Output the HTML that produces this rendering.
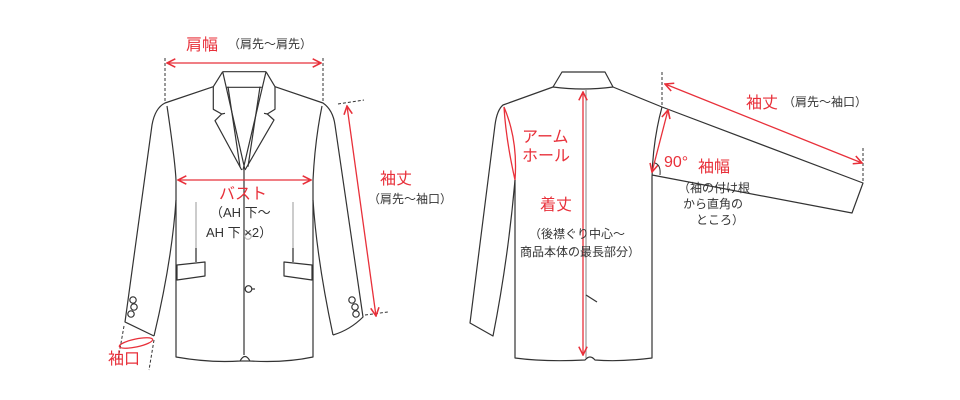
<!DOCTYPE html>
<html><head><meta charset="utf-8"><style>
html,body{margin:0;padding:0;background:#fff;width:960px;height:400px;overflow:hidden}
svg{display:block}
.r{fill:#e8303a;font-family:"Liberation Sans","Noto Sans CJK JP",sans-serif}
.k{fill:#333;font-family:"Liberation Sans","Noto Sans CJK JP",sans-serif}
</style></head><body>
<svg width="960" height="400" viewBox="0 0 960 400" xmlns="http://www.w3.org/2000/svg">
<defs>
<marker id="a" viewBox="0 0 10 10" refX="9" refY="5" markerWidth="8" markerHeight="8" orient="auto-start-reverse"><path d="M1,1 L9,5 L1,9" fill="none" stroke="#e8303a" stroke-width="1.5"/></marker>
</defs>
<g fill="none" stroke="#333" stroke-width="1.2" stroke-linejoin="round">
<!-- FRONT -->
<path d="M222.7,71.7 L266,71.7"/>
<path d="M226.7,87.3 L261.7,87.3"/>
<path d="M222.7,71.7 L213.3,86.7 L213.3,109.3 L221.7,114 L215,120.7 L241.7,170"/>
<path d="M266,71.7 L275,86.7 L275,109.3 L267.3,114 L274,120 L245,170"/>
<path d="M221.7,114 L225,113.3"/><path d="M267.3,114 L264,113.3"/>
<path d="M222.7,71.7 L245,170"/><path d="M266,71.7 L243,170"/>
<path d="M228,86.7 L240,166.7"/><path d="M260,86.7 L248,166.7"/>
<path d="M213.3,86.7 L165,103 Q155,108 152,125 L125,322 L154,336"/>
<path d="M275,86.7 L323,103 Q333,110 335,125 L363,317 Q350,330 333,335"/>
<path d="M167,106 Q175,160 176,180 L176,357 Q210,363 240,361 Q245,352 250,361 Q285,363 313,357 L313,180 Q315,140 322,106"/>
<path d="M176,200 Q172,260 154,336"/>
<path d="M313,200 Q317,260 333,335"/>
<path d="M244,170 L244,355"/>
<path d="M240,361 L250,361"/>
<path d="M177,265 L205,262 L205,276 L177,280 Z"/>
<path d="M284,262 L312,265 L312,280 L284,276 Z"/>
<path d="M196,202 L196,262" stroke="#aaa"/><path d="M196,248 L196,262"/>
<path d="M293,202 L293,262" stroke="#aaa"/><path d="M293,248 L293,262"/>
<circle cx="248.5" cy="289" r="3.3"/><path d="M252,289 L255,289"/>
<circle cx="248" cy="236" r="3.3" stroke="#bbb"/>
<circle cx="133" cy="300" r="3.2"/><circle cx="134" cy="307" r="3.2"/><circle cx="131" cy="314" r="3.2"/>
<circle cx="352" cy="300" r="3.2"/><circle cx="355" cy="307" r="3.2"/><circle cx="356" cy="314" r="3.2"/>
<!-- BACK -->
<path d="M562,72 L605,72 L613,87 Q583,91 553,87 Z"/>
<path d="M553,87 L503,105 Q497,110 495,125 L470,323 L493,336 Q508,260 515,180"/>
<path d="M613,87 L662,107 L863,183 L852,213 L652,175"/>
<path d="M662,107 Q653,140 652,177 L652,358 Q620,362 595,360 Q590,354 585,360 Q545,362 515,358 L515,180"/>
<path d="M586,90 L586,358" stroke="#999"/>
<path d="M586,295 L597,302"/>
</g>
<!-- dashed guides -->
<g stroke="#333" stroke-width="1" stroke-dasharray="3,2" fill="none">
<path d="M165,58 L165,103"/><path d="M323,58 L323,103"/>
<path d="M338,104 L364,100"/><path d="M365,315 L388,312"/>
<path d="M124,326 L118,360"/><path d="M154,340 L149,370"/>
<path d="M662,72 L662,107"/><path d="M863,148 L863,183"/>
</g>
<!-- red arrows -->
<g stroke="#e8303a" stroke-width="1.3" fill="none">
<path d="M167,63 L321,63" marker-start="url(#a)" marker-end="url(#a)"/>
<path d="M178,180 L311,180" marker-start="url(#a)" marker-end="url(#a)"/>
<path d="M347,106 L376,316" marker-start="url(#a)" marker-end="url(#a)"/>
<path d="M665,84 L862,163" marker-start="url(#a)" marker-end="url(#a)"/>
<path d="M668,110 L652,172" marker-start="url(#a)" marker-end="url(#a)"/>
<path d="M583,92 L583,355" marker-start="url(#a)" marker-end="url(#a)"/>
<ellipse cx="136" cy="343" rx="17" ry="4" transform="rotate(-12 136 343)"/>
<path d="M504,107 Q518,140 515,180 Q506,140 504,107 Z"/>
</g>
<path d="M655,163 Q661,165 660,175" stroke="#333" fill="none" stroke-width="1"/>
<!-- text -->
<text x="186" y="50" class="r" font-size="16">肩幅</text>
<text x="228" y="48" class="k" font-size="12">（肩先～肩先）</text>
<text x="219" y="199" class="r" font-size="16">バスト</text>
<text x="210" y="217" class="k" font-size="13">（AH 下～</text>
<text x="206" y="237" class="k" font-size="13">AH 下 ×2）</text>
<text x="380" y="184" class="r" font-size="16">袖丈</text>
<text x="368" y="203" class="k" font-size="12">（肩先～袖口）</text>
<text x="108" y="364" class="r" font-size="16">袖口</text>
<text x="522" y="142" class="r" font-size="16">アーム</text>
<text x="522" y="161" class="r" font-size="16">ホール</text>
<text x="540" y="210" class="r" font-size="16">着丈</text>
<text x="529" y="238" class="k" font-size="12">（後襟ぐり中心～</text>
<text x="520" y="256" class="k" font-size="12">商品本体の最長部分）</text>
<text x="746" y="108" class="r" font-size="16">袖丈</text>
<text x="783" y="106" class="k" font-size="12">（肩先～袖口）</text>
<text x="664" y="167" class="r" font-size="16">90°</text>
<text x="698" y="172" class="r" font-size="16">袖幅</text>
<text x="678" y="192" class="k" font-size="12">（袖の付け根</text>
<text x="683" y="208" class="k" font-size="12">から直角の</text>
<text x="696" y="224" class="k" font-size="12">ところ）</text>
</svg>
</body></html>
